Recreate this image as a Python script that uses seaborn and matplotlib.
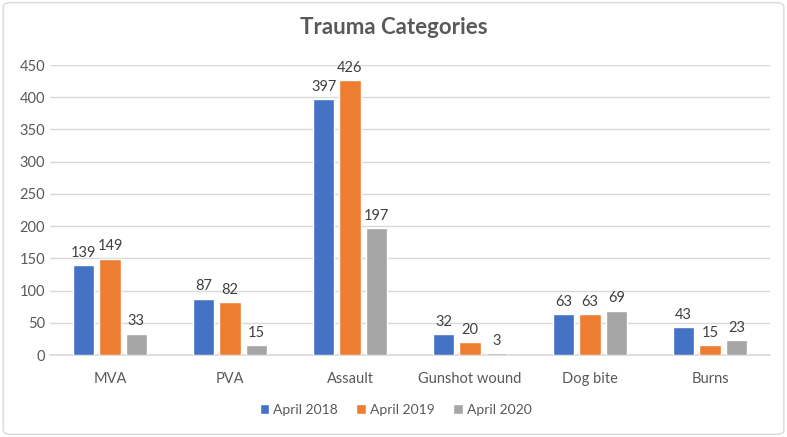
import numpy as np
import pandas as pd
import seaborn as sns
import matplotlib.pyplot as plt
from matplotlib.patches import FancyBboxPatch

categories = ['MVA', 'PVA', 'Assault', 'Gunshot wound', 'Dog bite', 'Burns']
april_2018 = [139, 87, 397, 32, 63, 43]
april_2019 = [149, 82, 426, 20, 63, 15]
april_2020 = [33, 15, 197, 3, 69, 23]
series_names = ['April 2018', 'April 2019', 'April 2020']
colors = ['#4472C4', '#ED7D31', '#A5A5A5']

df = pd.DataFrame({
    'category': categories * 3,
    'value': april_2018 + april_2019 + april_2020,
    'series': [s for s in series_names for _ in categories],
})

sns.set_theme(style='white')
plt.rcParams['font.family'] = ['Lato', 'DejaVu Sans']
text_color = '#595959'

fig = plt.figure(figsize=(7.87, 4.37), dpi=100)
ax = fig.add_axes([0.0635, 0.1876, 0.915, 0.6636])

sns.barplot(data=df, x='category', y='value', hue='series', order=categories,
            hue_order=series_names, palette=colors, width=0.66, gap=0.18,
            saturation=1, ax=ax, errorbar=None, zorder=3)

for cont in ax.containers:
    ax.bar_label(cont, padding=4, fontsize=10.5, color='#404040')

ax.set_ylim(0, 450)
ax.set_yticks(range(0, 451, 50))
ax.yaxis.grid(True, color='#D9D9D9', linewidth=1, zorder=0)
ax.set_xlabel('')
ax.set_ylabel('')
for s in ['top', 'right', 'left']:
    ax.spines[s].set_visible(False)
ax.spines['bottom'].set_color('#D9D9D9')
ax.tick_params(axis='both', colors=text_color, labelsize=10.5, length=0)
ax.tick_params(axis='x', pad=12)

fig.suptitle('Trauma Categories', x=0.5, y=0.96, fontsize=16, fontweight='bold',
             color=text_color)

ax.legend(loc='upper center', bbox_to_anchor=(0.48, -0.125), ncol=3, frameon=False,
          fontsize=10, handlelength=0.7, handleheight=0.7, handletextpad=0.3,
          columnspacing=1.3, labelcolor=text_color)

border = FancyBboxPatch((0.004, 0.006), 0.992, 0.988, boxstyle='round,pad=0,rounding_size=0.01',
                        transform=fig.transFigure, fill=False, edgecolor='#D9D9D9',
                        linewidth=1)
fig.patches.append(border)

fig.savefig('out.png', dpi=100)
